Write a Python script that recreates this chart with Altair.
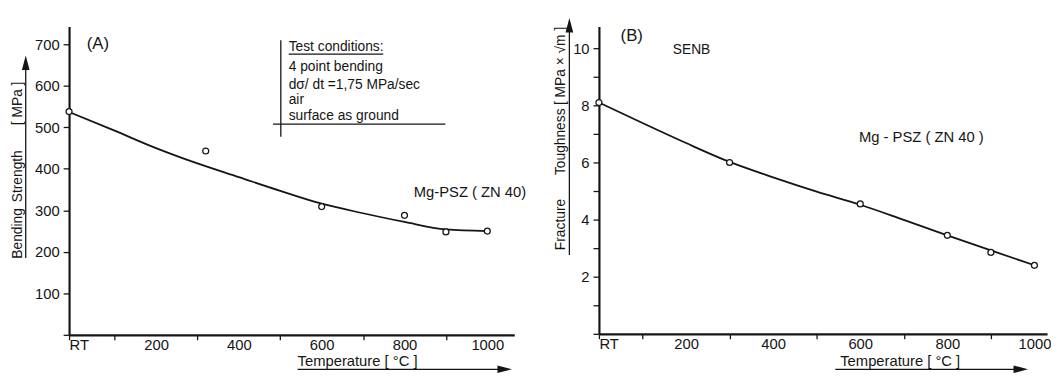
import altair as alt
import pandas as pd

FONT = "Liberation Sans"
INK = "#151515"

# ---------------- Panel A: bending strength ----------------
# RT is drawn at the origin of the temperature axis (position -10 on the drawn scale)
a_temp = [-10, 320, 600, 800, 900, 1000]
a_strength = [538, 443, 309, 288, 248, 250]
a_curve_temp = [-10, 100, 200, 300, 400, 500, 600, 700, 800, 900, 1000]
a_curve_val = [537, 492, 450, 413, 380, 347, 316, 293, 272, 254, 250]
a_x_ticks = [-10, 100, 200, 300, 400, 500, 600, 700, 800, 900, 1000]
a_y_ticks = [0, 100, 200, 300, 400, 500, 600, 700]

# ---------------- Panel B: fracture toughness ----------------
b_temp = [0, 300, 600, 800, 900, 1000]
b_kic = [8.1, 6.0, 4.55, 3.45, 2.85, 2.4]
b_curve_temp = [0, 100, 200, 300, 400, 500, 600, 700, 800, 900, 1000]
b_curve_val = [8.1, 7.38, 6.68, 6.02, 5.48, 4.98, 4.52, 3.99, 3.45, 2.92, 2.4]
b_x_ticks = [0, 100, 200, 300, 400, 500, 600, 700, 800, 900, 1000]
b_y_ticks = [0, 1, 2, 3, 4, 5, 6, 7, 8, 9, 10]

test_conditions = ["4 point bending", "dσ/ dt  =1,75  MPa/sec", "air", "surface as ground"]

ONE = alt.InlineData(values=[{"k": 0}])

UP_ARROW = "M0,-1L0.45,0.7L-0.45,0.7Z"
RIGHT_ARROW = "M1,0L-0.7,0.45L-0.7,-0.45Z"


def txt(s, x, y, size=14, align="left", angle=0):
    kw = dict(font=FONT, fontSize=size, color=INK, align=align, baseline="middle")
    if angle:
        kw["angle"] = angle
    return alt.Chart(ONE).mark_text(**kw).encode(
        x=alt.value(x), y=alt.value(y), text=alt.value(s))


def seg(x1, y1, x2, y2, w=1.3):
    return alt.Chart(ONE).mark_rule(color=INK, strokeWidth=w).encode(
        x=alt.value(x1), x2=alt.value(x2), y=alt.value(y1), y2=alt.value(y2))


def arrow(shape, x, y):
    return alt.Chart(ONE).mark_point(shape=shape, filled=True, size=300, color=INK,
                                     opacity=1, strokeWidth=0).encode(
        x=alt.value(x), y=alt.value(y))


def x_axis(values):
    return alt.Axis(
        values=values, format="d", title=None, grid=False,
        labelExpr="datum.value <= 0 ? 'RT' : (datum.value % 200 == 0 ? datum.label : '')",
        labelFont=FONT, labelFontSize=15, labelColor=INK, labelOverlap=False,
        labelPadding=-2, tickSize=5, tickWidth=1.3, tickColor=INK,
        tickOpacity={"condition": {"test": "datum.value % 200 != 0 || datum.value <= 0", "value": 1}, "value": 0},
        domainColor=INK, domainWidth=2.2)


def y_axis(values, expr):
    return alt.Axis(
        values=values, title=None, grid=False, labelExpr=expr,
        labelFont=FONT, labelFontSize=15, labelColor=INK, labelOverlap=False,
        labelPadding=4, tickSize=6, tickWidth=1.3, tickColor=INK,
        domainColor=INK, domainWidth=2.2)


# ---------- build panel A ----------
a_pts = pd.DataFrame({"T": a_temp, "v": a_strength})
a_cur = pd.DataFrame({"T": a_curve_temp, "v": a_curve_val})
ax = alt.X("T:Q", scale=alt.Scale(domain=[-10, 1065], nice=False, zero=False), axis=x_axis(a_x_ticks))
ay = alt.Y("v:Q", scale=alt.Scale(domain=[0, 743], nice=False), axis=y_axis(a_y_ticks, "datum.value == 0 ? '' : datum.label"))

a_line = alt.Chart(a_cur).mark_line(color=INK, strokeWidth=1.8, interpolate="monotone").encode(x=ax, y=ay)
a_point = alt.Chart(a_pts).mark_point(shape="circle", filled=True, fill="white", stroke=INK,
                                      strokeWidth=1.3, size=36, opacity=1).encode(x=ax, y=ay)

a_layers = [a_line, a_point,
            txt("(A)", 18, 18, size=17),
            # test condition box
            seg(215, 14, 215, 112), seg(207, 99, 382, 99),
            txt("Test conditions:", 223, 21, size=14),
            seg(223, 28, 319, 28, w=1.1)]
for i, line in enumerate(test_conditions):
    a_layers.append(txt(line, 223, [41, 59, 75, 91][i], size=14))
a_layers += [
    txt("Mg-PSZ  ( ZN 40)", 350, 168, size=15),
    # y title
    txt("Bending", -52, 210, align="center", angle=270),
    txt("Strength", -52, 152, align="center", angle=270),
    txt("[ MPa ]", -52, 78, align="center", angle=270),
    seg(-44, 235, -44, 40), arrow(UP_ARROW, -44, 38),
    # x title
    txt("Temperature   [ °C ]", 232, 340, size=15),
    seg(232, 348, 440, 348), arrow(RIGHT_ARROW, 441, 348),
]
panel_a = alt.layer(*a_layers).properties(width=452, height=313)

# ---------- build panel B ----------
b_pts = pd.DataFrame({"T": b_temp, "v": b_kic})
b_cur = pd.DataFrame({"T": b_curve_temp, "v": b_curve_val})
bx = alt.X("T:Q", scale=alt.Scale(domain=[0, 1029], nice=False, zero=False), axis=x_axis(b_x_ticks))
by = alt.Y("v:Q", scale=alt.Scale(domain=[0, 10.76], nice=False),
           axis=y_axis(b_y_ticks, "datum.value == 0 || datum.value % 2 == 1 ? '' : datum.label"))

b_line = alt.Chart(b_cur).mark_line(color=INK, strokeWidth=1.8, interpolate="monotone").encode(x=bx, y=by)
b_point = alt.Chart(b_pts).mark_point(shape="circle", filled=True, fill="white", stroke=INK,
                                      strokeWidth=1.3, size=36, opacity=1).encode(x=bx, y=by)

b_layers = [b_line, b_point,
            txt("(B)", 22, 10, size=17),
            txt("SENB", 75, 24, size=14),
            txt("Mg - PSZ    ( ZN 40 )", 264, 112, size=15),
            txt("Fracture", -38, 201, align="center", angle=270),
            txt("Toughness", -38, 117, align="center", angle=270),
            txt("[ MPa × √m ]", -38, 40, align="center", angle=270),
            seg(-30, 232, -30, 2), arrow(UP_ARROW, -30, 0),
            txt("Temperature   [ °C ]", 245, 340, size=15),
            seg(240, 348, 426, 348), arrow(RIGHT_ARROW, 427, 348)]
panel_b = alt.layer(*b_layers).properties(width=455, height=312)

chart = alt.hconcat(panel_a, panel_b, spacing=86, bounds="flush").properties(
    padding={"left": 3, "top": 7, "right": 0, "bottom": 0},
    background="white",
).configure_view(stroke=None)

chart.save("out.html", embed_options={"renderer": "svg", "actions": False})
